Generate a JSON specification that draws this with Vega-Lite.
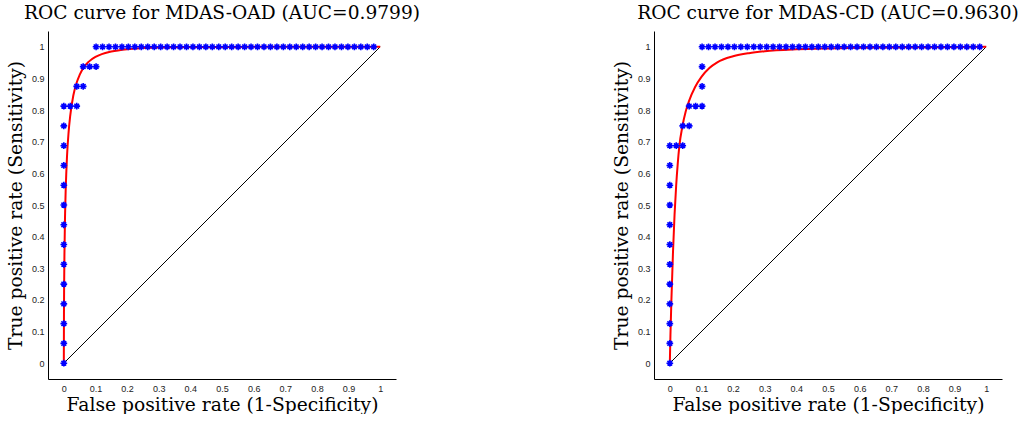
{
  "$schema": "https://vega.github.io/schema/vega-lite/v6.json",
  "padding": {"left": 6, "top": 4, "right": 0, "bottom": 0},
  "bounds": "flush",
  "spacing": 258,
  "config": {
    "view": {"stroke": null},
    "font": "DejaVu Serif",
    "axis": {"domainColor": "black", "domainWidth": 1, "ticks": false, "grid": false, "labelFont": "Liberation Sans", "labelFontSize": 9, "labelColor": "#222222", "titleFont": "DejaVu Serif", "titleFontSize": 18.7, "titleFontWeight": "normal", "titleColor": "black"},
    "axisX": {"labelPadding": 5, "titlePadding": 2},
    "axisY": {"labelPadding": 4, "titlePadding": 6},
    "title": {"font": "DejaVu Serif", "fontSize": 18.6, "fontWeight": "normal", "offset": 8, "color": "black"}
  },
  "datasets": {
    "diag": [{"x": 0, "y": 0}, {"x": 1, "y": 1}],
    "oad_roc": [
      {"x": 0, "y": 0}, {"x": 0, "y": 0.0625}, {"x": 0, "y": 0.125}, {"x": 0, "y": 0.1875}, {"x": 0, "y": 0.25}, {"x": 0, "y": 0.3125}, {"x": 0, "y": 0.375}, {"x": 0, "y": 0.4375}, {"x": 0, "y": 0.5}, {"x": 0, "y": 0.5625}, {"x": 0, "y": 0.625}, {"x": 0, "y": 0.6875}, {"x": 0, "y": 0.75}, {"x": 0, "y": 0.8125},
      {"x": 0.0204, "y": 0.8125}, {"x": 0.0408, "y": 0.8125}, {"x": 0.0408, "y": 0.875}, {"x": 0.0612, "y": 0.875}, {"x": 0.0612, "y": 0.9375}, {"x": 0.0816, "y": 0.9375}, {"x": 0.102, "y": 0.9375},
      {"x": 0.102, "y": 1}, {"x": 0.1224, "y": 1}, {"x": 0.1429, "y": 1}, {"x": 0.1633, "y": 1}, {"x": 0.1837, "y": 1}, {"x": 0.2041, "y": 1}, {"x": 0.2245, "y": 1}, {"x": 0.2449, "y": 1}, {"x": 0.2653, "y": 1}, {"x": 0.2857, "y": 1}, {"x": 0.3061, "y": 1}, {"x": 0.3265, "y": 1}, {"x": 0.3469, "y": 1}, {"x": 0.3673, "y": 1}, {"x": 0.3878, "y": 1}, {"x": 0.4082, "y": 1}, {"x": 0.4286, "y": 1}, {"x": 0.449, "y": 1}, {"x": 0.4694, "y": 1}, {"x": 0.4898, "y": 1}, {"x": 0.5102, "y": 1}, {"x": 0.5306, "y": 1}, {"x": 0.551, "y": 1}, {"x": 0.5714, "y": 1}, {"x": 0.5918, "y": 1}, {"x": 0.6122, "y": 1}, {"x": 0.6327, "y": 1}, {"x": 0.6531, "y": 1}, {"x": 0.6735, "y": 1}, {"x": 0.6939, "y": 1}, {"x": 0.7143, "y": 1}, {"x": 0.7347, "y": 1}, {"x": 0.7551, "y": 1}, {"x": 0.7755, "y": 1}, {"x": 0.7959, "y": 1}, {"x": 0.8163, "y": 1}, {"x": 0.8367, "y": 1}, {"x": 0.8571, "y": 1}, {"x": 0.8776, "y": 1}, {"x": 0.898, "y": 1}, {"x": 0.9184, "y": 1}, {"x": 0.9388, "y": 1}, {"x": 0.9592, "y": 1}, {"x": 0.9796, "y": 1}
    ],
    "cd_roc": [
      {"x": 0, "y": 0}, {"x": 0, "y": 0.0625}, {"x": 0, "y": 0.125}, {"x": 0, "y": 0.1875}, {"x": 0, "y": 0.25}, {"x": 0, "y": 0.3125}, {"x": 0, "y": 0.375}, {"x": 0, "y": 0.4375}, {"x": 0, "y": 0.5}, {"x": 0, "y": 0.5625}, {"x": 0, "y": 0.625}, {"x": 0, "y": 0.6875},
      {"x": 0.0204, "y": 0.6875}, {"x": 0.0408, "y": 0.6875}, {"x": 0.0408, "y": 0.75}, {"x": 0.0612, "y": 0.75}, {"x": 0.0612, "y": 0.8125}, {"x": 0.0816, "y": 0.8125}, {"x": 0.102, "y": 0.8125}, {"x": 0.102, "y": 0.875}, {"x": 0.102, "y": 0.9375},
      {"x": 0.102, "y": 1}, {"x": 0.1224, "y": 1}, {"x": 0.1429, "y": 1}, {"x": 0.1633, "y": 1}, {"x": 0.1837, "y": 1}, {"x": 0.2041, "y": 1}, {"x": 0.2245, "y": 1}, {"x": 0.2449, "y": 1}, {"x": 0.2653, "y": 1}, {"x": 0.2857, "y": 1}, {"x": 0.3061, "y": 1}, {"x": 0.3265, "y": 1}, {"x": 0.3469, "y": 1}, {"x": 0.3673, "y": 1}, {"x": 0.3878, "y": 1}, {"x": 0.4082, "y": 1}, {"x": 0.4286, "y": 1}, {"x": 0.449, "y": 1}, {"x": 0.4694, "y": 1}, {"x": 0.4898, "y": 1}, {"x": 0.5102, "y": 1}, {"x": 0.5306, "y": 1}, {"x": 0.551, "y": 1}, {"x": 0.5714, "y": 1}, {"x": 0.5918, "y": 1}, {"x": 0.6122, "y": 1}, {"x": 0.6327, "y": 1}, {"x": 0.6531, "y": 1}, {"x": 0.6735, "y": 1}, {"x": 0.6939, "y": 1}, {"x": 0.7143, "y": 1}, {"x": 0.7347, "y": 1}, {"x": 0.7551, "y": 1}, {"x": 0.7755, "y": 1}, {"x": 0.7959, "y": 1}, {"x": 0.8163, "y": 1}, {"x": 0.8367, "y": 1}, {"x": 0.8571, "y": 1}, {"x": 0.8776, "y": 1}, {"x": 0.898, "y": 1}, {"x": 0.9184, "y": 1}, {"x": 0.9388, "y": 1}, {"x": 0.9592, "y": 1}, {"x": 0.9796, "y": 1}
    ],
    "oad_fit": [
      {"x": 0, "y": 0}, {"x": 0.0005, "y": 0.166}, {"x": 0.001, "y": 0.245}, {"x": 0.002, "y": 0.348}, {"x": 0.004, "y": 0.472}, {"x": 0.006, "y": 0.552}, {"x": 0.008, "y": 0.606}, {"x": 0.01, "y": 0.652}, {"x": 0.015, "y": 0.729}, {"x": 0.02, "y": 0.78}, {"x": 0.03, "y": 0.846}, {"x": 0.04, "y": 0.885}, {"x": 0.05, "y": 0.911}, {"x": 0.06, "y": 0.931}, {"x": 0.08, "y": 0.954}, {"x": 0.1, "y": 0.968}, {"x": 0.12, "y": 0.977}, {"x": 0.15, "y": 0.985}, {"x": 0.2, "y": 0.9925}, {"x": 0.25, "y": 0.996}, {"x": 0.3, "y": 0.998}, {"x": 0.4, "y": 0.9994}, {"x": 0.5, "y": 0.9998}, {"x": 0.7, "y": 1}, {"x": 1, "y": 1}
    ],
    "cd_fit": [
      {"x": 0, "y": 0}, {"x": 0.002, "y": 0.09}, {"x": 0.005, "y": 0.2}, {"x": 0.01, "y": 0.35}, {"x": 0.015, "y": 0.47}, {"x": 0.02, "y": 0.56}, {"x": 0.025, "y": 0.63}, {"x": 0.03, "y": 0.685}, {"x": 0.04, "y": 0.75}, {"x": 0.05, "y": 0.795}, {"x": 0.06, "y": 0.827}, {"x": 0.08, "y": 0.873}, {"x": 0.1, "y": 0.905}, {"x": 0.125, "y": 0.933}, {"x": 0.15, "y": 0.951}, {"x": 0.2, "y": 0.97}, {"x": 0.25, "y": 0.98}, {"x": 0.3, "y": 0.986}, {"x": 0.4, "y": 0.992}, {"x": 0.5, "y": 0.995}, {"x": 0.6, "y": 0.997}, {"x": 0.7, "y": 0.998}, {"x": 0.8, "y": 0.999}, {"x": 1, "y": 1}
    ]
  },
  "hconcat": [
    {
      "width": 348, "height": 348,
      "title": "ROC curve for MDAS-OAD (AUC=0.9799)",
      "encoding": {
        "x": {"field": "x", "type": "quantitative", "scale": {"domain": [-0.05, 1.05], "nice": false, "zero": false}, "axis": {"values": [0, 0.1, 0.2, 0.3, 0.4, 0.5, 0.6, 0.7, 0.8, 0.9, 1], "format": "~g", "title": "False positive rate (1-Specificity)"}},
        "y": {"field": "y", "type": "quantitative", "scale": {"domain": [-0.05, 1.05], "nice": false, "zero": false}, "axis": {"values": [0, 0.1, 0.2, 0.3, 0.4, 0.5, 0.6, 0.7, 0.8, 0.9, 1], "format": "~g", "title": "True positive rate (Sensitivity)"}}
      },
      "layer": [
        {"data": {"name": "diag"}, "mark": {"type": "line", "color": "black", "strokeWidth": 1}},
        {"data": {"name": "oad_fit"}, "mark": {"type": "line", "color": "#ff0000", "strokeWidth": 2, "interpolate": "monotone"}},
        {"data": {"name": "oad_roc"}, "mark": {"type": "point", "shape": "M0,-1L0,1M-1,0L1,0M-0.7,-0.7L0.7,0.7M-0.7,0.7L0.7,-0.7", "filled": false, "color": "#0000ff", "strokeWidth": 1.6, "size": 45, "opacity": 1}}
      ]
    },
    {
      "width": 348, "height": 348,
      "title": "ROC curve for MDAS-CD (AUC=0.9630)",
      "encoding": {
        "x": {"field": "x", "type": "quantitative", "scale": {"domain": [-0.05, 1.05], "nice": false, "zero": false}, "axis": {"values": [0, 0.1, 0.2, 0.3, 0.4, 0.5, 0.6, 0.7, 0.8, 0.9, 1], "format": "~g", "title": "False positive rate (1-Specificity)"}},
        "y": {"field": "y", "type": "quantitative", "scale": {"domain": [-0.05, 1.05], "nice": false, "zero": false}, "axis": {"values": [0, 0.1, 0.2, 0.3, 0.4, 0.5, 0.6, 0.7, 0.8, 0.9, 1], "format": "~g", "title": "True positive rate (Sensitivity)"}}
      },
      "layer": [
        {"data": {"name": "diag"}, "mark": {"type": "line", "color": "black", "strokeWidth": 1}},
        {"data": {"name": "cd_fit"}, "mark": {"type": "line", "color": "#ff0000", "strokeWidth": 2, "interpolate": "monotone"}},
        {"data": {"name": "cd_roc"}, "mark": {"type": "point", "shape": "M0,-1L0,1M-1,0L1,0M-0.7,-0.7L0.7,0.7M-0.7,0.7L0.7,-0.7", "filled": false, "color": "#0000ff", "strokeWidth": 1.6, "size": 45, "opacity": 1}}
      ]
    }
  ]
}
